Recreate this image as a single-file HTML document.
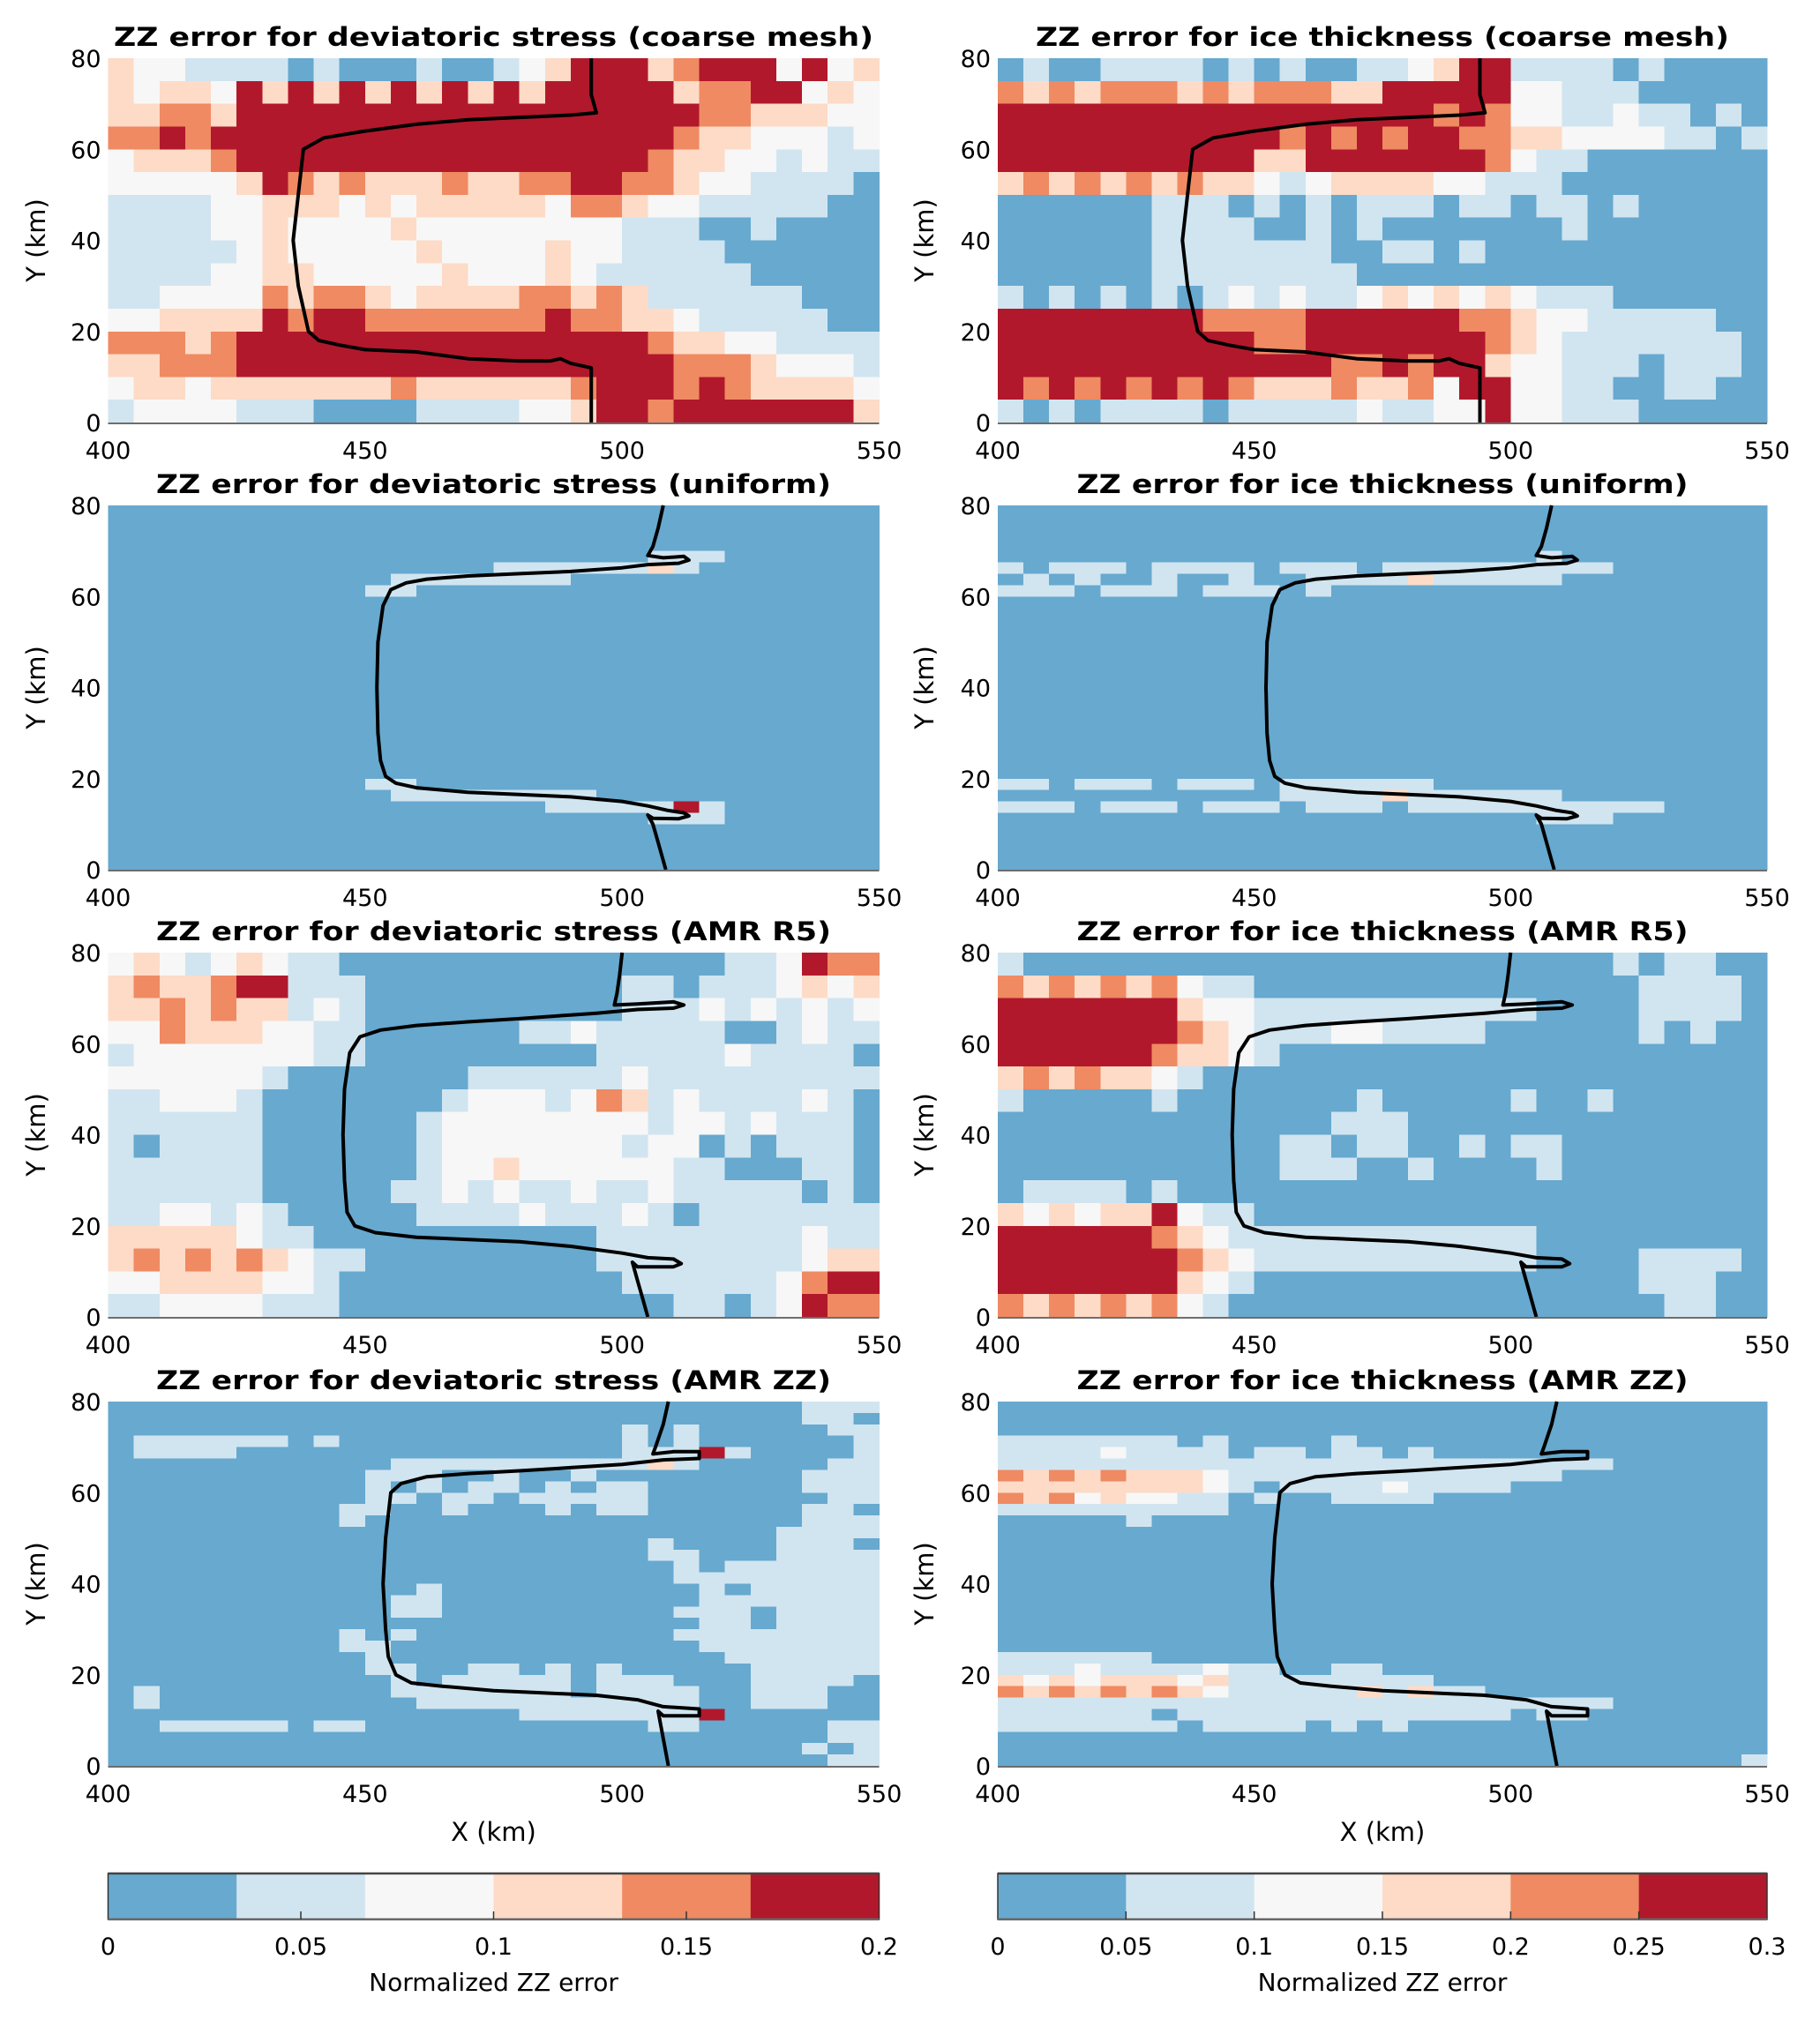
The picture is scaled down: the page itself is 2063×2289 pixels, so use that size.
<!DOCTYPE html>
<html><head><meta charset="utf-8">
<style>
html,body{margin:0;padding:0;background:#fff;}
svg{display:block;font-family:"DejaVu Sans","Liberation Sans",sans-serif;}
</style></head>
<body>
<svg id="fig" width="2063" height="2289" viewBox="0 0 2063 2289" xmlns="http://www.w3.org/2000/svg"></svg>
<script>
// ---------- data ----------
const levelColors = ["#67a9cf","#d1e5f0","#f7f7f7","#fddbc7","#ef8a62","#b2182b"];
const xTicks = [400,450,500,550];
const yTicks = [0,20,40,60,80];
const cbTicksLeft = [0,0.05,0.1,0.15,0.2];
const cbTicksLeftLabels = ["0","0.05","0.1","0.15","0.2"];
const cbTicksRight = [0,0.05,0.1,0.15,0.2,0.25,0.3];
const cbTicksRightLabels = ["0","0.05","0.1","0.15","0.2","0.25","0.3"];

const gridDevCoarse = [
"322111101000100123555345552523",
"323325353535353535555534455232",
"334435555555555555555554433322",
"445455555555555555555543322212",
"233345555555555555555433221211",
"222223543433343344554432211110",
"111122333232333332443221111100",
"111122322223222222221110010000",
"111112322222322223221111000000",
"111122332222232223211111100000",
"112222434432333344343111111000",
"223333545544444445443321111100",
"444345555555555555555433221111",
"334445555555555555555544432221",
"233233333334333333455545433332",
"122221110000111122355455555553"];
const gridIceCoarse = [
"010011110101001123551111010000",
"434344434344433555552211100000",
"555555555555555554542211211010",
"555555555554545455443322221101",
"555555555533555555542110000000",
"343434343321233332211100000000",
"000000111010101110110110100000",
"000000111100101000000010000000",
"000000111111100110100000000000",
"000000111111110000000000000000",
"101010101212112323232111000000",
"555555554444555555443221111100",
"555555555544555555543211111110",
"555555555555544545532211101110",
"545454545433343342552211001100",
"101011110111112112252211100000"];
const gridDevR5 = [
"232123211000000000000000112544",
"343345511100000000001101112323",
"334343312100000000001112121212",
"224333221100000011211111001211",
"122222221100000000011111211110",
"222222100000001111112111111111",
"112221000000012221243121111210",
"111111000000122222222122121110",
"101111000000122222221220101110",
"111111000000122322222211000110",
"111111000001121211211211111010",
"112212100000111121112101111111",
"333332110000000000011111111211",
"343434321100000000011111111233",
"223333221000000000001111112455",
"112222111000000000000011012544"];
const gridIceR5 = [
"100000000000000000000000101100",
"434343421100000000000000011110",
"555555532211111111111000011110",
"555555543211122111100000010100",
"555555433210000000000000000000",
"343433210000000000000000000000",
"100000100000001000001001000000",
"000000000000011100000000000000",
"000000000001101100101100000000",
"000000000001110010000100000000",
"011110100000000000000000000000",
"323233521100000000000000000000",
"555555432111111111111000000000",
"555555543211111111111000011110",
"555555532100000000000000011100",
"434343421000000000000000001100"];
const gridDevUniform = [
"000000000000000000000000000000",
"000000000000000000000000000000",
"000000000000000000000000000000",
"000000000000000000000000000000",
"000000000000000000000111000000",
"000000000000000111111310000000",
"000000000001111111000000000000",
"000000000011000000000000000000",
"000000000000000000000000000000",
"000000000000000000000000000000",
"000000000000000000000000000000",
"000000000000000000000000000000",
"000000000000000000000000000000",
"000000000000000000000000000000",
"000000000000000000000000000000",
"000000000000000000000000000000",
"000000000000000000000000000000",
"000000000000000000000000000000",
"000000000000000000000000000000",
"000000000000000000000000000000",
"000000000000000000000000000000",
"000000000000000000000000000000",
"000000000000000000000000000000",
"000000000000000000000000000000",
"000000000011000000000000000000",
"000000000001111111100000000000",
"000000000000000001111151000000",
"000000000000000000000111000000",
"000000000000000000000000000000",
"000000000000000000000000000000",
"000000000000000000000000000000",
"000000000000000000000000000000"];
const gridIceUniform = [
"000000000000000000000000000000",
"000000000000000000000000000000",
"000000000000000000000000000000",
"000000000000000000000000000000",
"000000000000000000000100000000",
"101110111101110111111111000000",
"010100100100111131111100000000",
"111011101110100000000000000000",
"000000000000000000000000000000",
"000000000000000000000000000000",
"000000000000000000000000000000",
"000000000000000000000000000000",
"000000000000000000000000000000",
"000000000000000000000000000000",
"000000000000000000000000000000",
"000000000000000000000000000000",
"000000000000000000000000000000",
"000000000000000000000000000000",
"000000000000000000000000000000",
"000000000000000000000000000000",
"000000000000000000000000000000",
"000000000000000000000000000000",
"000000000000000000000000000000",
"000000000000000000000000000000",
"110111011101111110000000000000",
"000000000001111311111100000000",
"111011101110111011111111110000",
"000000000000000000000111000000",
"000000000000000000000000000000",
"000000000000000000000000000000",
"000000000000000000000000000000",
"000000000000000000000000000000"];
const gridDevZZ = [
"000000000000000000000000000111",
"000000000000000000000000000110",
"000000000000000000001010000011",
"011111101000000000001010000001",
"011110000000000000001115100001",
"000000000001111111111310000011",
"000000000011100100100000000111",
"000000000010101101011000000111",
"000000000011011011111000000011",
"000000000110010001011000000110",
"000000000100000000000000000111",
"000000000000000000000000001111",
"000000000000000000000100001110",
"000000000000000000000110001111",
"000000000000000000000010111111",
"000000000000000000000011111111",
"000000000000100000000001011111",
"000000000001100000000001111111",
"000000000001100000000011101111",
"000000000000000000000001101111",
"000000000101000000000011111111",
"000000000110000000000001111111",
"000000000010000000000000111111",
"000000000011001101010000011111",
"000000000001011111011100011110",
"010000000001111111011110011100",
"010000000000111111111110011100",
"000000000000000011111115000000",
"001111101100000000000110000011",
"000000000000000000000000000011",
"000000000000000000000000000101",
"000000000000000000000000000011"];
const gridIceZZ = [
"000000000000000000000000000000",
"000000000000000000000000000000",
"000000000000000000000000000000",
"111111101000010000000000000000",
"111121111011011010000000000000",
"111111111111111111111111000000",
"434343332111111111111100000000",
"333333332101111211110000000000",
"434232211010011110000000000000",
"111111111000000000000000000000",
"000001000000000000000000000000",
"000000000000000000000000000000",
"000000000000000000000000000000",
"000000000000000000000000000000",
"000000000000000000000000000000",
"000000000000000000000000000000",
"000000000000000000000000000000",
"000000000000000000000000000000",
"000000000000000000000000000000",
"000000000000000000000000000000",
"000000000000000000000000000000",
"000000000000000000000000000000",
"111111000000000000000000000000",
"111211112110011000000000000000",
"323233323111111110000000000000",
"434343432111113131100000000000",
"111111111111111111111111000000",
"111111011111111111110110000000",
"111111101111010100000000000000",
"000000000000000000000000000000",
"000000000000000000000000000000",
"000000000000000000000000000001"];

const lineCoarseX = [494,494,495,490,480,470,460,450,442,438,437,436,437,438,439,441,445,450,460,470,480,486,488,490,494,494,494];
const lineCoarseY = [80,72,68,67.5,67,66.5,65.5,64,62.5,60,50,40,30,25,20,18,17,16,15.5,14,13.5,13.5,14,13,12,5,0];
const lineUniformX = [508,507,506,505,508,512,513,511,505,500,490,480,470,462,458,455,453.5,452.5,452.3,452.5,453,454,456,460,470,480,490,500,505,509,512,513,511,506,505,506,507,508,508.5];
const lineUniformY = [80,75,71,69,68.5,68.8,68,67.3,67,66.3,65.5,65,64.5,63.8,63,61.5,58,50,40,30,24,20.5,19,18,17,16.5,16,15,14,13,12.5,11.8,11.2,11.3,12,10,6,2,0];
const lineR5X = [500,499.5,499,498.5,503,510,512,510,503,495,490,480,470,460,453,449,447,446,445.7,446,446.5,448,452,460,470,480,490,500,505,510,511.5,510,503,502,503,504,505];
const lineR5Y = [80,75,71,68.5,68.7,69.2,68.5,67.8,67.5,66.7,66.3,65.5,64.8,64,63,61.5,58,50,40,30,23,20,18.5,17.5,17,16.5,15.5,14,13,12.7,11.7,11,11,12,8,4,0];
const lineZZX = [509,508,506.5,506,510,515,515,508,500,490,480,470,462,457,455,454,453.5,454,454.5,456,459,465,475,485,495,503,508,515,515,508,507,508,509];
const lineZZY = [80,75,70,68.5,69,69,67.5,67.2,66.2,65.5,64.8,64.2,63.5,62,60,50,40,30,24,20,18.2,17.5,16.5,16,15.5,14.5,13,12.5,11,11,12,6,0];

// ---------- layout ----------
const NS = "http://www.w3.org/2000/svg";
const svg = document.getElementById("fig");
const cols = [{x0:122.5,w:874,ylab:41},{x0:1131,w:872,ylab:1048}];
const rows = [66,573,1080,1589];
const PH = 413;
function mk(tag, attrs, parent){
  const e = document.createElementNS(NS, tag);
  for (const k in attrs) e.setAttribute(k, attrs[k]);
  (parent||svg).appendChild(e);
  return e;
}
function txt(s, attrs, parent){ const t = mk("text", attrs, parent); t.textContent = s; return t; }

const panels = [
 {name:"dev-coarse", c:0, r:0, title:"ZZ error for deviatoric stress (coarse mesh)", tw:861, grid:gridDevCoarse, lx:lineCoarseX, ly:lineCoarseY},
 {name:"ice-coarse", c:1, r:0, title:"ZZ error for ice thickness (coarse mesh)", tw:786, grid:gridIceCoarse, lx:lineCoarseX, ly:lineCoarseY},
 {name:"dev-uniform", c:0, r:1, title:"ZZ error for deviatoric stress (uniform)", tw:765, grid:gridDevUniform, lx:lineUniformX, ly:lineUniformY},
 {name:"ice-uniform", c:1, r:1, title:"ZZ error for ice thickness (uniform)", tw:693, grid:gridIceUniform, lx:lineUniformX, ly:lineUniformY},
 {name:"dev-amr-r5", c:0, r:2, title:"ZZ error for deviatoric stress (AMR R5)", tw:765, grid:gridDevR5, lx:lineR5X, ly:lineR5Y},
 {name:"ice-amr-r5", c:1, r:2, title:"ZZ error for ice thickness (AMR R5)", tw:693, grid:gridIceR5, lx:lineR5X, ly:lineR5Y},
 {name:"dev-amr-zz", c:0, r:3, title:"ZZ error for deviatoric stress (AMR ZZ)", tw:765, grid:gridDevZZ, lx:lineZZX, ly:lineZZY},
 {name:"ice-amr-zz", c:1, r:3, title:"ZZ error for ice thickness (AMR ZZ)", tw:693, grid:gridIceZZ, lx:lineZZX, ly:lineZZY}
];

panels.forEach(p => {
  const col = cols[p.c], top = rows[p.r];
  const xs = v => col.x0 + (v-400)/150*col.w;
  const ys = v => top + (80-v)/80*PH;
  const g = mk("g", {});
  
  
  const cells = mk("g", {"shape-rendering":"crispEdges"}, g);
  
  
  const ny = p.grid.length;
  p.grid.forEach((rowStr, ri) => {
    const nx = rowStr.length;
    const yTop = 80 - ri*80/ny, yBot = 80 - (ri+1)*80/ny;
    for (let i=0;i<nx;i++){
      const lvl = +rowStr[i];
      const xa = 400 + i*150/nx, xb = 400 + (i+1)*150/nx;
      const rc = mk("rect", {x:xs(xa), y:ys(yTop), width:xs(xb)-xs(xa)+0.6, height:ys(yBot)-ys(yTop)+0.6, fill:levelColors[lvl]}, cells);
      
      
    }
  });
  let d = "";
  p.lx.forEach((x,k)=>{ d += (k?"L":"M") + xs(x).toFixed(1) + " " + ys(p.ly[k]).toFixed(1); });
  const ln = mk("path", {d:d, fill:"none", stroke:"#000", "stroke-width":4, "stroke-linejoin":"round"}, g);
  
  
  const ax = mk("line", {x1:xs(400), x2:xs(550), y1:ys(0)+1, y2:ys(0)+1, stroke:"#6d6d6d", "stroke-width":2}, g);
  
  
  const t = txt(p.title, {x:col.x0+col.w/2, y:top-14, "text-anchor":"middle", "font-size":29, "font-weight":"bold", textLength:p.tw, lengthAdjust:"spacingAndGlyphs"}, g);
  
  
  xTicks.forEach(v => {
    const tl = txt(String(v), {x:xs(v), y:ys(0)+41, "text-anchor":"middle", "font-size":27}, g);
    
    
  });
  yTicks.forEach(v => {
    const tl = txt(String(v), {x:col.x0-8, y:ys(v)+10, "text-anchor":"end", "font-size":27}, g);
    
    
  });
  const yl = txt("Y (km)", {x:0, y:0, "text-anchor":"middle", "font-size":29, transform:`translate(${col.ylab+10},${top+PH/2}) rotate(-90)`}, g);
  
  
  if (p.r === 3){
    const xl = txt("X (km)", {x:col.x0+col.w/2, y:2087, "text-anchor":"middle", "font-size":29}, g);
    
    
  }
});

// ---------- colorbars ----------
function colorbar(col, vmax, ticks, labels, name){
  const g = mk("g", {});
  
  
  const y0 = 2124, h = 52;
  const cs = v => col.x0 + v/vmax*col.w;
  levelColors.forEach((c,k)=>{
    const a = k*vmax/levelColors.length, b = (k+1)*vmax/levelColors.length;
    const r = mk("rect", {x:cs(a), y:y0, width:cs(b)-cs(a)+0.5, height:h, fill:c}, g);
    
    
  });
  mk("rect", {x:col.x0, y:y0, width:col.w, height:h, fill:"none", stroke:"#333", "stroke-width":1.5}, g);
  mk("line", {x1:col.x0, x2:col.x0+col.w, y1:y0, y2:y0, stroke:"#444", "stroke-width":2.5}, g);
  mk("line", {x1:col.x0, x2:col.x0+col.w, y1:y0+h, y2:y0+h, stroke:"#666", "stroke-width":2.5}, g);
  ticks.forEach((v,k)=>{
    if (k>0 && k<ticks.length-1) mk("line", {x1:cs(v), x2:cs(v), y1:y0+h, y2:y0+h-9, stroke:"#333", "stroke-width":1.5}, g);
    const tl = txt(labels[k], {x:cs(v), y:2216, "text-anchor":"middle", "font-size":27}, g);
    
    
  });
  const lab = txt("Normalized ZZ error", {x:col.x0+col.w/2, y:2257, "text-anchor":"middle", "font-size":28}, g);
  
  
}
colorbar(cols[0], 0.2, cbTicksLeft, cbTicksLeftLabels, "colorbar-deviatoric-stress");
colorbar(cols[1], 0.3, cbTicksRight, cbTicksRightLabels, "colorbar-ice-thickness");
</script>
</body></html>
